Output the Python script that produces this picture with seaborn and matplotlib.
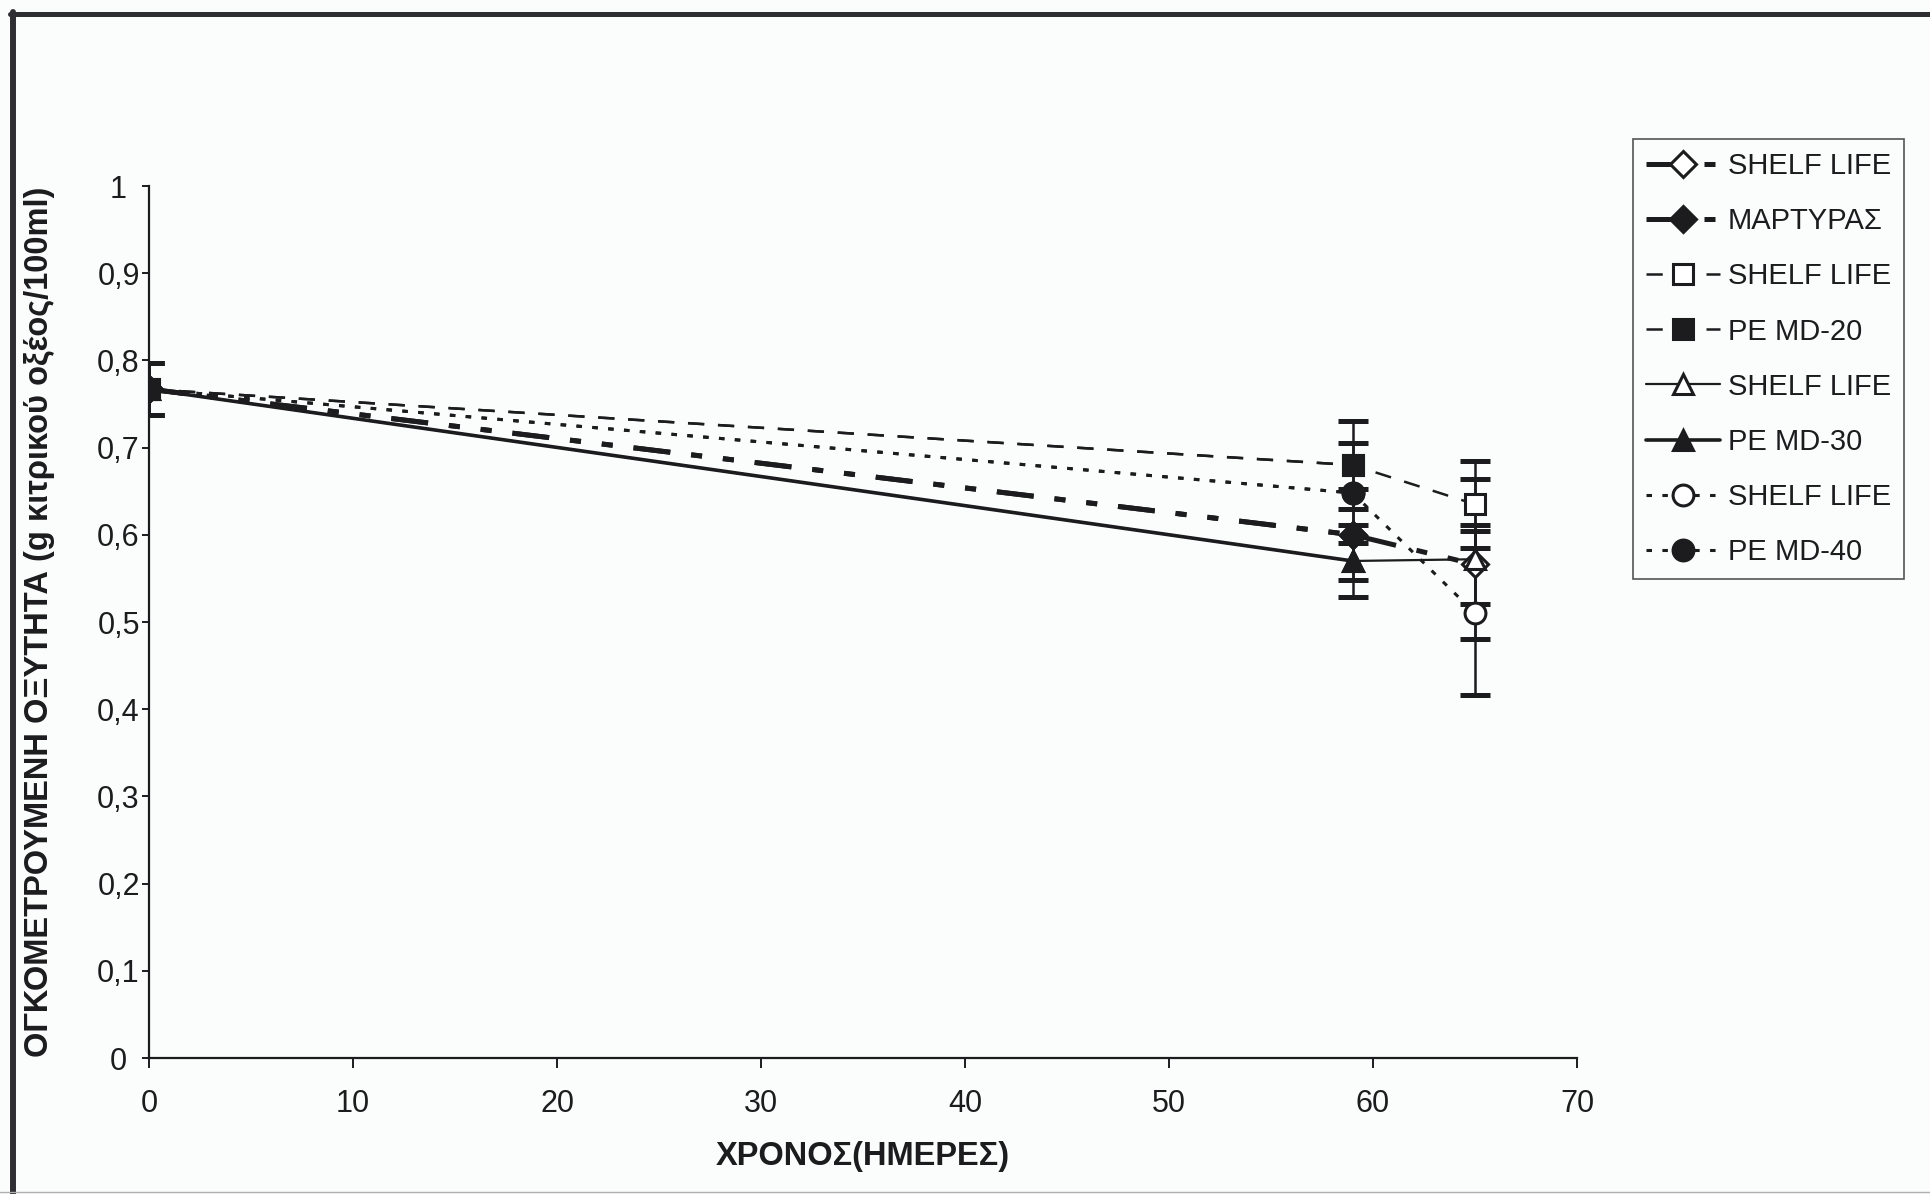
import matplotlib
matplotlib.use("Agg")
import matplotlib.pyplot as plt
from matplotlib.lines import Line2D
from matplotlib import font_manager
import seaborn as sns

# ------------------------------------------------------------------
# data (days of storage vs titratable acidity)
# ------------------------------------------------------------------
days_shelf = [0, 59, 65]
days_pe = [0, 59]

shelf_life_1 = [0.767, 0.600, 0.566]
martyras = [0.767, 0.600]
err_1 = [0.03, 0.052, 0.045]

shelf_life_2 = [0.767, 0.680, 0.635]
pe_md20 = [0.767, 0.680]
err_2 = [0.03, 0.050, 0.050]

shelf_life_3 = [0.767, 0.570, 0.572]
pe_md30 = [0.767, 0.570]
err_3 = [0.03, 0.041, 0.092]

shelf_life_4 = [0.767, 0.648, 0.510]
pe_md40 = [0.767, 0.648]
err_4 = [0.03, 0.057, 0.094]

labels = ["SHELF LIFE", "ΜΑΡΤΥΡΑΣ", "SHELF LIFE", "PE MD-20",
          "SHELF LIFE", "PE MD-30", "SHELF LIFE", "PE MD-40"]

xticks = [0, 10, 20, 30, 40, 50, 60, 70]
yticks = [0, 0.1, 0.2, 0.3, 0.4, 0.5, 0.6, 0.7, 0.8, 0.9, 1.0]
ytick_labels = ["0", "0,1", "0,2", "0,3", "0,4", "0,5", "0,6", "0,7", "0,8", "0,9", "1"]

xlabel = "ΧΡΟΝΟΣ(ΗΜΕΡΕΣ)"
ylabel = "ΟΓΚΟΜΕΤΡΟΥΜΕΝΗ ΟΞΥΤΗΤΑ (g κιτρικού οξέος/100ml)"

# ------------------------------------------------------------------
sns.set_theme(style="white")
installed = {f.name for f in font_manager.fontManager.ttflist}
base_font = "Liberation Sans" if "Liberation Sans" in installed else "DejaVu Sans"
plt.rcParams["font.family"] = [base_font, "DejaVu Sans"]

INK = "#1c1c1e"
BG = "#fbfcfc"

fig = plt.figure(figsize=(19.31, 11.94), dpi=100, facecolor=BG)
ax = fig.add_axes([0.0772, 0.1139, 0.7395, 0.7303], facecolor=BG)

dash_dot = (0, (7.4, 4.2, 2.2, 4.2, 2.2, 4.2))
dashed = (0, (6.5, 5.5))
dotted = (0, (1.8, 3.4))

groups = [
    # open series, filled series, error, marker, linestyle, lw open, lw filled, marker size
    (shelf_life_1, martyras, err_1, "D", dash_dot, 3.6, 3.6, 13),
    (shelf_life_2, pe_md20, err_2, "s", dashed, 1.8, 1.8, 14),
    (shelf_life_3, pe_md30, err_3, "^", "-", 1.6, 2.6, 15),
    (shelf_life_4, pe_md40, err_4, "o", dotted, 2.2, 2.2, 15),
]

handles = []
for open_vals, filled_vals, err, mk, ls, lw_o, lw_f, ms in groups:
    ax.errorbar(days_shelf, open_vals, yerr=err, fmt="none", ecolor=INK,
                elinewidth=1.8, capsize=10.5, capthick=3.6, zorder=1.5)
    sns.lineplot(x=days_shelf, y=open_vals, ax=ax, errorbar=None, color=INK,
                 linestyle=ls, linewidth=lw_o, marker=mk, markersize=ms,
                 markerfacecolor="white", markeredgecolor=INK, markeredgewidth=2.2,
                 zorder=2)
    handles.append(ax.lines[-1])
    sns.lineplot(x=days_pe, y=filled_vals, ax=ax, errorbar=None, color=INK,
                 linestyle=ls, linewidth=lw_f, marker=mk, markersize=ms,
                 markerfacecolor=INK, markeredgecolor=INK, markeredgewidth=2.2,
                 zorder=3)
    handles.append(ax.lines[-1])

ax.set_xlim(0, 70)
ax.set_ylim(0, 1)
ax.set_xticks(xticks)
ax.set_xticklabels([str(t) for t in xticks])
ax.set_yticks(yticks)
ax.set_yticklabels(ytick_labels, ha="center")
ax.tick_params(axis="y", direction="out", length=5, width=1.4, pad=17,
               labelsize=22, colors=INK, left=True)
ax.tick_params(axis="x", direction="out", length=7, width=1.4, pad=15,
               labelsize=22, colors=INK, bottom=True)

for side in ["top", "right"]:
    ax.spines[side].set_visible(False)
for side in ["left", "bottom"]:
    ax.spines[side].set_color(INK)
    ax.spines[side].set_linewidth(1.6)

ax.set_xlabel(xlabel, fontsize=23.5, fontweight="bold", color=INK, labelpad=16)
ax.set_ylabel(ylabel, fontsize=23.5, fontweight="bold", color=INK)
ax.yaxis.set_label_coords(-0.066, 0.5)

leg = ax.legend(handles, labels, loc="upper left",
                bbox_to_anchor=(1633 / 1931, 1 - 139 / 1194),
                bbox_transform=fig.transFigure, borderaxespad=0,
                fontsize=21, frameon=True, fancybox=False, framealpha=1,
                edgecolor="#555555", facecolor=BG, handlelength=2.55,
                handletextpad=0.25, labelspacing=0.93, borderpad=0.45,
                numpoints=1)
leg.get_frame().set_linewidth(1.2)
for txt in leg.get_texts():
    txt.set_color(INK)

# scanned page frame
fig.add_artist(Line2D([0.0067, 0.0067], [0.0, 0.990], transform=fig.transFigure,
                      color="#2f2f33", lw=4.3))
fig.add_artist(Line2D([0.005, 1.0], [0.9885, 0.9885], transform=fig.transFigure,
                      color="#2f2f33", lw=3.6))
fig.add_artist(Line2D([0.0, 1.0], [0.0015, 0.0015], transform=fig.transFigure,
                      color="#b0b0b0", lw=1.0))

fig.savefig("out.png", dpi=100, facecolor=BG)
